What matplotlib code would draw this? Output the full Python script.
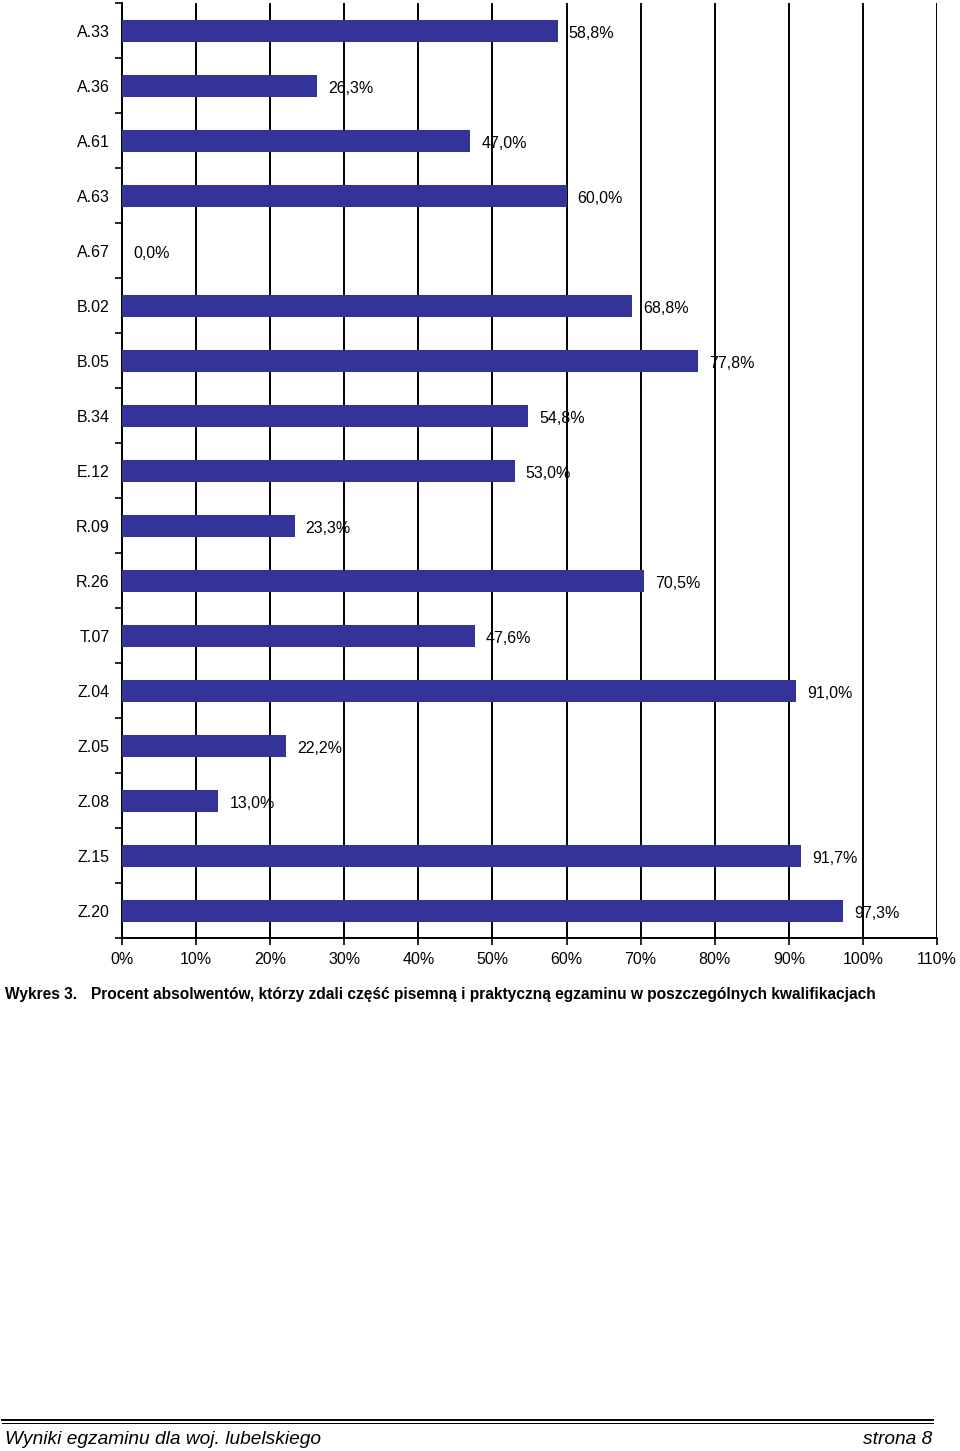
import matplotlib.pyplot as plt
import matplotlib.transforms as mtransforms
import numpy as np
from matplotlib.ticker import FixedLocator

plt.rcParams["font.family"] = ["Liberation Sans", "DejaVu Sans"]

codes = ["A.33", "A.36", "A.61", "A.63", "A.67", "B.02", "B.05", "B.34", "E.12",
         "R.09", "R.26", "T.07", "Z.04", "Z.05", "Z.08", "Z.15", "Z.20"]
values = [58.8, 26.3, 47.0, 60.0, 0.0, 68.8, 77.8, 54.8, 53.0,
          23.3, 70.5, 47.6, 91.0, 22.2, 13.0, 91.7, 97.3]
x_ticks = [0, 10, 20, 30, 40, 50, 60, 70, 80, 90, 100, 110]

caption_num = "Wykres 3."
caption = ("Procent absolwentów, którzy zdali część pisemną i praktyczną "
           "egzaminu w poszczególnych kwalifikacjach")
footer_left = "Wyniki egzaminu dla woj. lubelskiego"
footer_right = "strona 8"

fig = plt.figure(figsize=(9.6, 14.51), dpi=100)
ax = fig.add_axes([122 / 960, 1 - 938 / 1451, (937 - 122) / 960, 935 / 1451])

pos = np.arange(len(codes))
ax.barh(pos, values, height=0.4, color="#333399", zorder=3)

for p, v in zip(pos, values):
    ax.annotate(f"{v:.1f}%".replace(".", ","), xy=(v, p), xytext=(8, -2),
                textcoords="offset points", va="center", ha="left",
                fontsize=11.5, zorder=4)

ax.set_xlim(0, 110)
ax.set_ylim(len(codes) - 0.5, -0.5)
ax.set_xticks(x_ticks)
ax.set_xticklabels([f"{t}%" for t in x_ticks], fontsize=11.5)
ax.set_yticks(pos)
ax.set_yticklabels(codes, fontsize=11.5, va="center")
ax.yaxis.set_minor_locator(FixedLocator(np.arange(-0.5, len(codes), 1.0)))
ax.tick_params(axis="y", which="major", length=0, pad=9)
ax.tick_params(axis="y", which="minor", length=5, width=1.2, direction="out")
ax.tick_params(axis="x", which="major", length=5, width=1.2, direction="out", pad=5)

# nudge the category labels down a little so they sit on the bar centre
shift = mtransforms.ScaledTranslation(0, -2 / 100, fig.dpi_scale_trans)
for lbl in ax.get_yticklabels():
    lbl.set_transform(lbl.get_transform() + shift)

ax.grid(axis="x", color="black", linewidth=1.4, zorder=0)
ax.set_axisbelow(True)
for side in ["top", "right"]:
    ax.spines[side].set_visible(False)
for side in ["left", "bottom"]:
    ax.spines[side].set_linewidth(1.4)

fig.text(5 / 960, 1 - 995 / 1451, caption_num, fontsize=11.2, fontweight="bold",
         ha="left", va="center")
fig.text(91 / 960, 1 - 995 / 1451, caption, fontsize=11.2, fontweight="bold",
         ha="left", va="center")

fig.add_artist(plt.Line2D([2 / 960, 933 / 960], [1 - 1420 / 1451] * 2,
                          color="black", linewidth=1.4))
fig.add_artist(plt.Line2D([2 / 960, 933 / 960], [1 - 1423 / 1451] * 2,
                          color="black", linewidth=0.7))
fig.text(5 / 960, 1 - 1440 / 1451, footer_left, fontsize=13.8, style="italic",
         ha="left", va="center")
fig.text(932 / 960, 1 - 1440 / 1451, footer_right, fontsize=13.8, style="italic",
         ha="right", va="center")

fig.savefig("out.png", dpi=100)
